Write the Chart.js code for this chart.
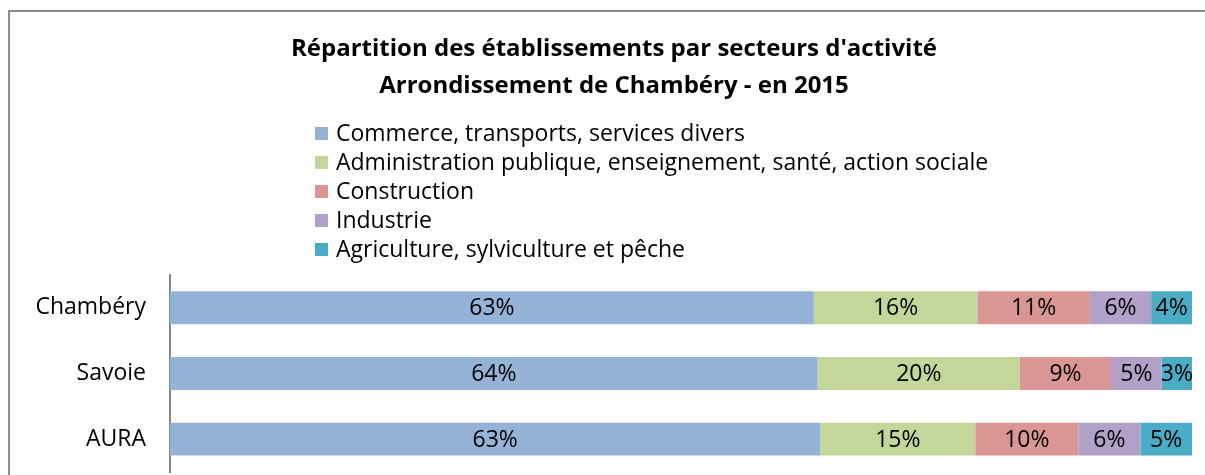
<!DOCTYPE html>
<html lang="fr">
<head>
<meta charset="utf-8">
<title>Répartition des établissements par secteurs d'activité</title>
<script src="https://cdn.jsdelivr.net/npm/chart.js@4/dist/chart.umd.min.js"></script>
<style>
  html, body { margin: 0; padding: 0; background: #fff; }
  canvas { display: block; }
</style>
</head>
<body>
<canvas id="secteurs" width="1205" height="475"></canvas>
<script>
// territoires et secteurs (parts en %)
const territoires = ['Chambéry', 'Savoie', 'AURA']
const secteurs = [
  'Commerce, transports, services divers',
  'Administration publique, enseignement, santé, action sociale',
  'Construction',
  'Industrie',
  'Agriculture, sylviculture et pêche'
]
const commerce = [63, 64, 63]
const administration = [16, 20, 15]
const construction = [11, 9, 10]
const industrie = [6, 5, 6]
const agriculture = [4, 3, 5]
const couleurs = ['#95B3D7', '#C4D79B', '#DA9694', '#B1A0C7', '#4BACC6']

const FONT = '"Open Sans", sans-serif'
const series = [commerce, administration, construction, industrie, agriculture]

// barres empilées à 100 % : chaque ligne ramenée à son total
const totaux = territoires.map((t, i) => series.reduce((s, arr) => s + arr[i], 0))

const datasets = series.map((vals, k) => ({
  label: secteurs[k],
  raw: vals,
  data: vals.map((v, i) => v / totaux[i] * 100),
  backgroundColor: couleurs[k],
  borderWidth: 0,
  barPercentage: 0.5,
  categoryPercentage: 1
}))

// cadre gris du graphique
const cadre = {
  id: 'cadre',
  beforeDraw(chart) {
    const ctx = chart.ctx
    ctx.save()
    ctx.strokeStyle = '#8c8c8c'
    ctx.lineWidth = 2
    ctx.beginPath()
    ctx.moveTo(9, chart.height + 5)
    ctx.lineTo(9, 11)
    ctx.lineTo(chart.width + 5, 11)
    ctx.stroke()
    ctx.restore()
  }
}

// légende en liste verticale sous le titre
const legende = {
  id: 'legende',
  afterDraw(chart) {
    const ctx = chart.ctx
    ctx.save()
    ctx.font = '23px ' + FONT
    ctx.textBaseline = 'middle'
    ctx.textAlign = 'left'
    chart.data.datasets.forEach((ds, k) => {
      const y = 133 + k * 29
      ctx.fillStyle = ds.backgroundColor
      ctx.fillRect(315, y - 6, 13, 13)
      ctx.fillStyle = '#000'
      ctx.fillText(ds.label, 336, y + 1)
    })
    ctx.restore()
  }
}

// étiquettes de valeur centrées dans chaque segment
const etiquettes = {
  id: 'etiquettes',
  afterDatasetsDraw(chart) {
    const ctx = chart.ctx
    ctx.save()
    ctx.font = '23px ' + FONT
    ctx.fillStyle = '#000'
    ctx.textAlign = 'center'
    ctx.textBaseline = 'middle'
    chart.data.datasets.forEach((ds, k) => {
      chart.getDatasetMeta(k).data.forEach((bar, i) => {
        const p = bar.getProps(['x', 'y', 'base'], true)
        ctx.fillText(ds.raw[i] + '%', (p.x + p.base) / 2, p.y + 1)
      })
    })
    ctx.restore()
  }
}

new Chart(document.getElementById('secteurs'), {
  type: 'bar',
  data: { labels: territoires, datasets: datasets },
  options: {
    indexAxis: 'y',
    responsive: false,
    animation: false,
    layout: { padding: { left: 36, right: 13, top: 0, bottom: 3 } },
    scales: {
      x: { stacked: true, min: 0, max: 100, display: false },
      y: {
        stacked: true,
        grid: { display: true, color: 'transparent', drawTicks: false },
        border: { display: true, color: '#868686', width: 2 },
        ticks: { color: '#000', padding: 24, font: { family: FONT, size: 23 } },
        afterFit(scale) {
          scale.width = 134
          scale.paddingTop = 0
          scale.paddingBottom = 0
        }
      }
    },
    plugins: {
      legend: { display: false },
      tooltip: { enabled: false },
      title: {
        display: true,
        text: ["Répartition des établissements par secteurs d'activité", 'Arrondissement de Chambéry - en 2015'],
        color: '#000',
        font: { family: FONT, size: 24, weight: 'bold', lineHeight: 1.54 },
        padding: { top: 31, bottom: 170 }
      }
    }
  },
  plugins: [cadre, legende, etiquettes]
})
</script>
</body>
</html>
